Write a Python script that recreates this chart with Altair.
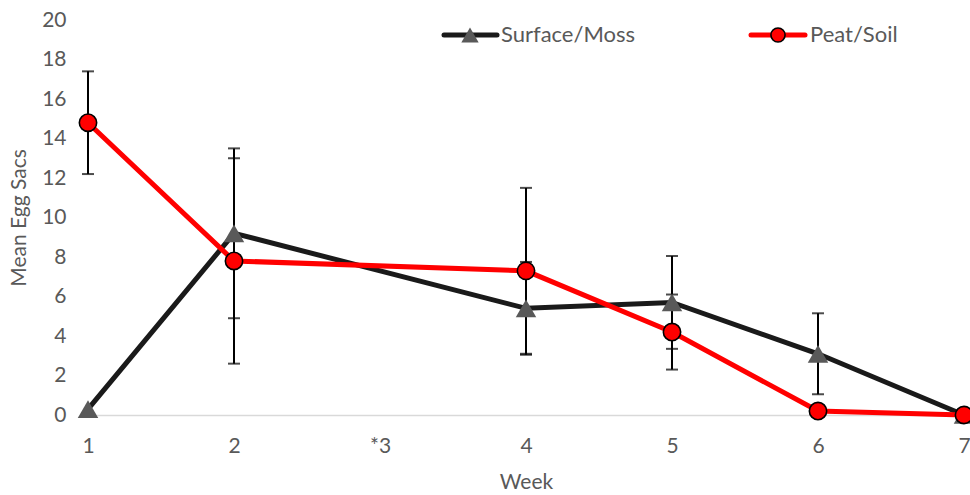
import altair as alt
import pandas as pd

weeks = [1, 2, 4, 5, 6, 7]
week_labels = ["1", "2", "*3", "4", "5", "6", "7"]
surface_mean = [0.3, 9.2, 5.4, 5.7, 3.1, 0.0]
surface_err = [0.0, 4.3, 2.35, 2.35, 2.05, 0.0]
peat_mean = [14.8, 7.8, 7.3, 4.2, 0.2, 0.0]
peat_err = [2.6, 5.2, 4.2, 1.9, 0.0, 0.0]
series_names = ["Surface/Moss", "Peat/Soil"]

FONT = "Lato"
GRAY = "#595959"
FS = 21

rows = []
caps = []
for name, means, errs in [(series_names[0], surface_mean, surface_err),
                          (series_names[1], peat_mean, peat_err)]:
    for w, m, e in zip(weeks, means, errs):
        rows.append({"series": name, "week": w, "mean": m, "err": e,
                     "lo": m - e, "hi": m + e})
        if e > 0:
            caps.append({"week": w, "mean": m - e})
            caps.append({"week": w, "mean": m + e})
df = pd.DataFrame(rows)
surf = df[df.series == series_names[0]]
peat = df[df.series == series_names[1]]
errs = df[df.err > 0].drop(columns=["mean"]).rename(columns={"lo": "mean"})
caps = pd.DataFrame(caps)

label_map = "{" + ",".join(f"'{i + 1}':'{l}'" for i, l in enumerate(week_labels)) + "}"

xscale = alt.Scale(domain=[1, 7], nice=False)
yscale = alt.Scale(domain=[0, 20], nice=False)

x = alt.X("week:Q", scale=xscale,
          axis=alt.Axis(values=list(range(1, 8)), format="d",
                        labelExpr=f"{label_map}[datum.label]",
                        grid=False, ticks=False, domain=True,
                        domainColor="#d9d9d9", domainWidth=1.5,
                        labelColor=GRAY, labelFont=FONT, labelFontSize=FS,
                        labelPadding=20, labelFlush=False, labelOverlap=False,
                        title="Week", titleColor=GRAY, titleFont=FONT,
                        titleFontSize=FS, titleFontWeight="normal",
                        titlePadding=15))
y = alt.Y("mean:Q", scale=yscale,
          axis=alt.Axis(values=list(range(0, 21, 2)), format="d", grid=False,
                        ticks=False, domain=False, labelColor=GRAY,
                        labelFont=FONT, labelFontSize=FS, labelPadding=22,
                        labelOverlap=False,
                        title="Mean Egg Sacs", titleColor=GRAY,
                        titleFont=FONT, titleFontSize=FS,
                        titleFontWeight="normal", titlePadding=12))

line_s = alt.Chart(surf).mark_line(color="#1a1a1a", strokeWidth=5).encode(x=x, y=y)
line_p = alt.Chart(peat).mark_line(color="#ff0000", strokeWidth=5).encode(x=x, y=y)

err_rule = alt.Chart(errs).mark_rule(color="black", strokeWidth=2).encode(
    x=x, y=y, y2="hi:Q")
cap_t = alt.Chart(caps).mark_tick(color="black", thickness=2, size=12,
                                  orient="horizontal").encode(x=x, y=y)

pts_s = alt.Chart(surf).mark_point(shape="triangle-up", filled=True,
                                   color=GRAY, size=420, opacity=1).encode(x=x, y=y)
pts_p = alt.Chart(peat).mark_point(shape="circle", filled=True, fill="#ff0000",
                                   stroke="black", strokeWidth=1.6, size=300,
                                   opacity=1).encode(x=x, y=y)

# legend
leg_y = 15
leg = []
leg.append(alt.Chart(pd.DataFrame({"n": [series_names[0]]})).mark_rule(
    color="#1a1a1a", strokeWidth=5, strokeCap="round").encode(
    x=alt.value(356), x2=alt.value(409), y=alt.value(leg_y)))
leg.append(alt.Chart(pd.DataFrame({"n": [series_names[0]]})).mark_point(
    shape="triangle-up", filled=True, color=GRAY, size=300, opacity=1).encode(
    x=alt.value(382), y=alt.value(leg_y)))
leg.append(alt.Chart(pd.DataFrame({"n": [series_names[0]]})).mark_text(
    align="left", baseline="middle", font=FONT, fontSize=22, color=GRAY).encode(
    x=alt.value(413), y=alt.value(leg_y), text="n:N"))
leg.append(alt.Chart(pd.DataFrame({"n": [series_names[1]]})).mark_rule(
    color="#ff0000", strokeWidth=5, strokeCap="round").encode(
    x=alt.value(663), x2=alt.value(717), y=alt.value(leg_y)))
leg.append(alt.Chart(pd.DataFrame({"n": [series_names[1]]})).mark_point(
    shape="circle", filled=True, fill="#ff0000", stroke="black",
    strokeWidth=1.6, size=200, opacity=1).encode(
    x=alt.value(690), y=alt.value(leg_y)))
leg.append(alt.Chart(pd.DataFrame({"n": [series_names[1]]})).mark_text(
    align="left", baseline="middle", font=FONT, fontSize=22, color=GRAY).encode(
    x=alt.value(722), y=alt.value(leg_y), text="n:N"))

chart = alt.layer(line_s, line_p, err_rule, cap_t, pts_s, pts_p,
                  *leg).properties(
    width=876, height=395,
    background="white",
    autosize=alt.AutoSizeParams(type="none"),
    padding={"left": 88, "top": 20, "right": 6, "bottom": 80},
).configure_view(stroke=None)

chart.save("out.html", embed_options={"renderer": "svg", "actions": False})
